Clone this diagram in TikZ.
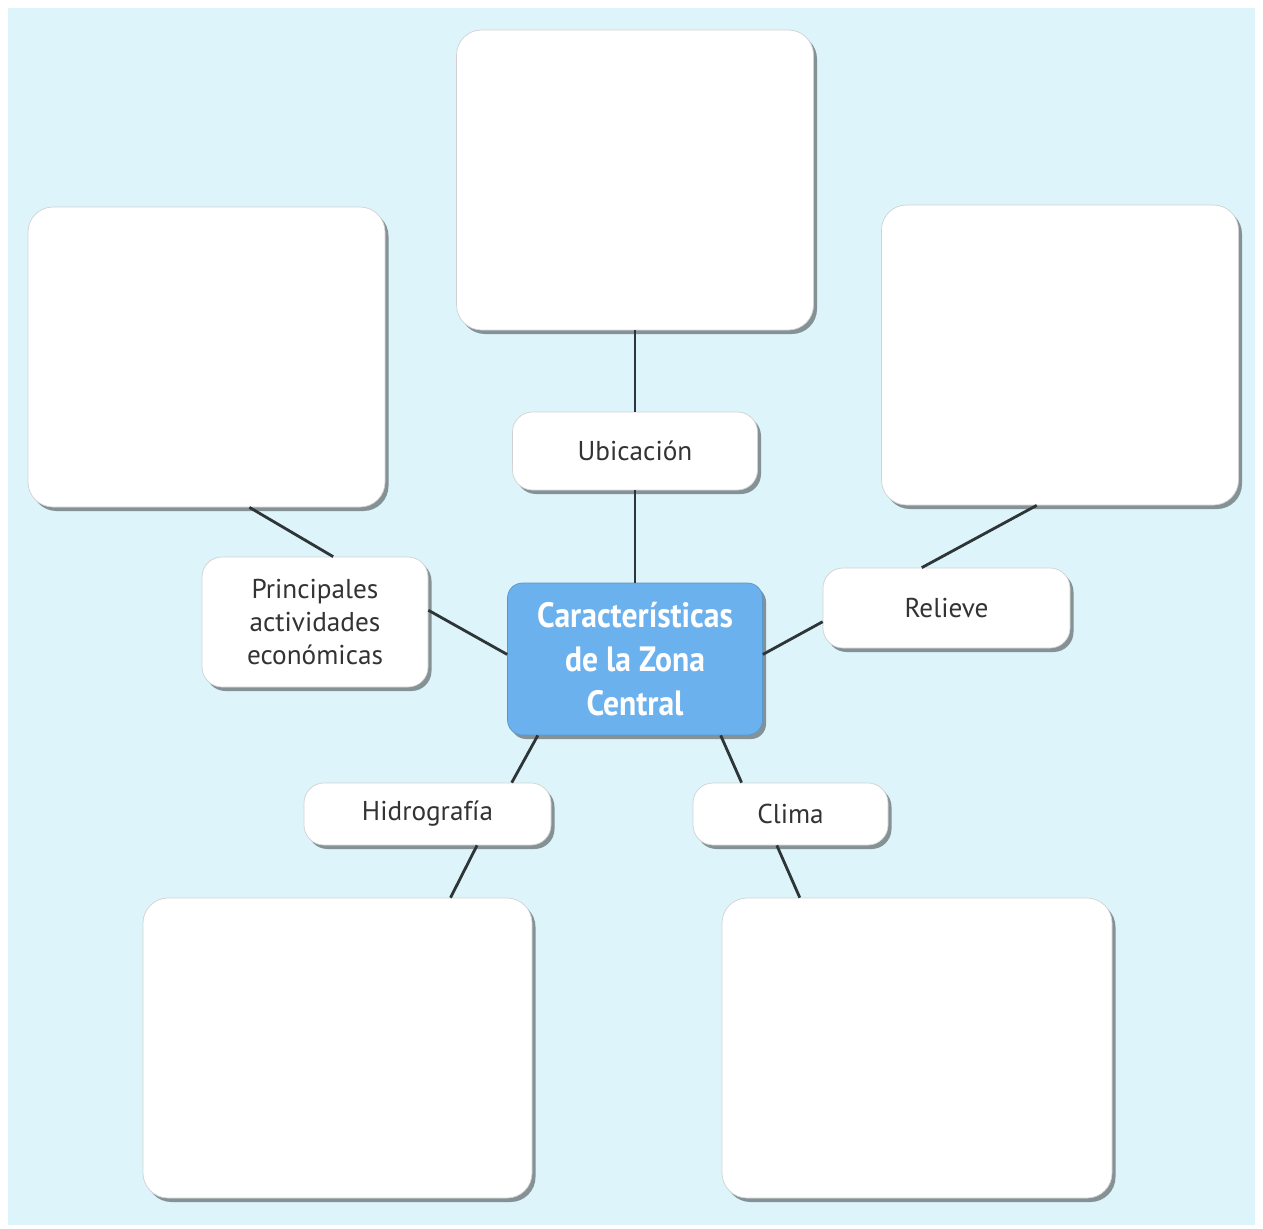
\documentclass[tikz,border=0pt]{standalone}
\usepackage{fontspec}
\setmainfont{PT Sans}
\newfontfamily\hubfont[FakeStretch=0.9]{PT Sans}
\usetikzlibrary{calc,shadows}
\definecolor{panel}{HTML}{DDF4FA}
\definecolor{hub}{HTML}{6BB1EE}
\definecolor{ink}{HTML}{333333}
\definecolor{wire}{HTML}{2E3538}
\tikzset{
  softshadow/.style={drop shadow={shadow xshift=0.07cm,shadow yshift=-0.08cm,fill=black,opacity=0.4}},
  bigbox/.style={fill=white,draw=gray!35,line width=0.4pt,rounded corners=0.5cm,
    minimum width=7.14cm,minimum height=6cm,softshadow},
  tagbox/.style={fill=white,draw=gray!35,line width=0.4pt,rounded corners=0.4cm,
    text=ink,align=center,font=\fontsize{15.5}{19}\selectfont,inner sep=0pt,softshadow},
  hubbox/.style={fill=hub,draw=hub!85!black,line width=0.4pt,rounded corners=0.3cm,
    text=white,align=center,font=\hubfont\bfseries\fontsize{20}{25}\selectfont,
    minimum width=5.1cm,minimum height=3.04cm,inner sep=0pt,softshadow},
  link/.style={wire,line width=1.6pt}
}
\begin{document}
\begin{tikzpicture}
\useasboundingbox (0,0) rectangle (25.26,-24.56);
\fill[panel] (0.16,-0.16) rectangle (25.1,-24.5);
% edit here for the empty boxes
\node[bigbox] (top) at (12.70,-3.6) {};
\node[bigbox] (tl) at (4.13,-7.14) {};
\node[bigbox] (tr) at (21.2,-7.1) {};
\node[bigbox,minimum width=7.78cm] (bl) at (6.75,-20.96) {};
\node[bigbox,minimum width=7.8cm] (br) at (18.34,-20.96) {};
% edit here for the topics
\node[tagbox,minimum width=4.9cm,minimum height=1.56cm] (ubi) at (12.70,-9.02) {Ubicación};
\node[tagbox,minimum width=4.52cm,minimum height=2.6cm] (eco) at (6.3,-12.44) {Principales\\actividades\\económicas};
\node[tagbox,minimum width=4.94cm,minimum height=1.6cm] (rel) at (18.93,-12.16) {Relieve};
\node[tagbox,minimum width=4.94cm,minimum height=1.24cm] (hid) at (8.55,-16.28) {Hidrografía};
\node[tagbox,minimum width=3.9cm,minimum height=1.24cm] (cli) at (15.81,-16.28) {Clima};
\node[hubbox] (hub) at (12.70,-13.18) {Características\\de la Zona\\Central};
% edit here for the ends of the links
\coordinate (tl-out) at ($(tl.south west)!.62!(tl.south east)$);
\coordinate (eco-up) at ($(eco.north west)!.58!(eco.north east)$);
\coordinate (eco-out) at ($(eco.south east)!.59!(eco.north east)$);
\coordinate (hub-w) at ($(hub.south west)!.53!(hub.north west)$);
\coordinate (tr-out) at ($(tr.south west)!.435!(tr.south east)$);
\coordinate (rel-up) at ($(rel.north west)!.40!(rel.north east)$);
\coordinate (rel-out) at ($(rel.south west)!.33!(rel.north west)$);
\coordinate (hub-e) at ($(hub.south east)!.53!(hub.north east)$);
\coordinate (hub-sw) at ($(hub.south west)!.12!(hub.south east)$);
\coordinate (hub-se) at ($(hub.south west)!.835!(hub.south east)$);
\coordinate (hid-up) at ($(hid.north west)!.84!(hid.north east)$);
\coordinate (hid-out) at ($(hid.south west)!.70!(hid.south east)$);
\coordinate (bl-in) at ($(bl.north west)!.79!(bl.north east)$);
\coordinate (cli-up) at ($(cli.north west)!.25!(cli.north east)$);
\coordinate (cli-out) at ($(cli.south west)!.43!(cli.south east)$);
\coordinate (br-in) at ($(br.north west)!.20!(br.north east)$);
% edit here for the links
\foreach \a/\b in {top.south/ubi.north, ubi.south/hub.north, tl-out/eco-up, eco-out/hub-w,
  tr-out/rel-up, rel-out/hub-e, hub-sw/hid-up, hid-out/bl-in, hub-se/cli-up, cli-out/br-in}
\draw[link] (\a) -- (\b);
\end{tikzpicture}
\end{document}
